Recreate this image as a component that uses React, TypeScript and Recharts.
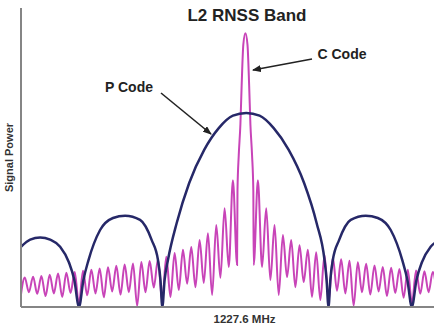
import { LineChart, Line, XAxis, YAxis } from 'recharts'

// frequency axis runs in arbitrary units, carrier (1227.6 MHz) sits at 53.9
const CARRIER = 53.9

// P code spectrum
const pCodeFreq = [
  0, 2.2, 4.6, 7, 9.4, 11.5, 12.8, 13.93,
  15, 16.2, 19, 22.1, 25, 28.6, 31.4, 32.9, 33.5, 33.94,
  34.5, 35.3, 37.4, 40.4, 44, 47.5, 50.9, 54.1, 57.3, 60.7, 64.3, 68, 71, 72.9, 73.4, 73.86,
  74.3, 74.9, 76.4, 79.2, 82.8, 85.7, 88.8, 91.6, 92.8, 93.87,
  95, 96.3, 98.4, 100.8
]
const pCodePower = [
  15.5, 17.3, 17.9, 17.3, 15.5, 11.5, 7, 0,
  7, 12, 19.8, 22.9, 23.5, 22.4, 17.2, 12.1, 7, 0,
  7, 12.1, 21.6, 31.9, 40.4, 46, 49.2, 49.9, 49.2, 46, 40.4, 31.9, 21.6, 12.1, 7, 0,
  7, 12.1, 17.2, 22.4, 23.5, 22.9, 19.8, 12, 7, 0,
  7, 11.5, 15.5, 17.3
]

// C code: sidelobe peaks and nulls, counted outward from the carrier
const cPeaksLeft = [
  32.6, 25.4, 21.1, 19, 17.2, 15.4, 14.7, 13.9, 12.9, 12.3,
  11.8, 11.6, 11.2, 10.9, 10.6, 10.2, 9.9, 9.6, 9.3, 9,
  8.8, 8.6, 8.3, 8, 7.8, 7.6
]
const cNullsLeft = [
  10.8, 10.3, 7.5, 3.1, 6.2, 5.1, 6, 4.4, 2.6, 1.5,
  5, 3.8, 0.3, 3.8, 3.2, 4, 2.5, 3.5, 3, 0.8,
  3.6, 2.6, 3.5, 2.8, 3.4, 3.8, 2.5
]
const cPeaksRight = [
  32.6, 25.4, 21.1, 18.5, 17.2, 15.9, 14.7, 14.1, 13.4, 12.7,
  12.3, 11.9, 11.5, 11.1, 10.7, 10.3, 10.1, 9.8, 9.6, 9.4,
  9.2, 9
]
const cNullsRight = [
  10.8, 10.3, 6.9, 3.1, 7.7, 5.1, 6.4, 2.6, 1.8, 1.5,
  4.2, 3.5, 0.3, 3.8, 3.2, 4, 2.8, 3.6, 2.4, 1,
  3.4, 3.8, 3
]
const cMainOffset = [-1.9, -1.6, -1.2, -0.9, -0.5, 0, 0.5, 0.9, 1.2, 1.6, 1.9]
const cMainPower = [30, 39, 47, 57, 67.5, 70.4, 67.5, 57, 47, 39, 30]

const xTicks = [0, 10, 20, 30, 40, 50, 60, 70, 80, 90]
const yTicks = [0, 10, 20, 30, 40, 50, 60, 70]

const pCodeData = pCodeFreq.map((x, i) => ({ x, v: pCodePower[i] }))

const buildCCode = () => {
  const pts: { x: number; v: number }[] = []
  for (let k = cNullsLeft.length; k >= 1; k--) {
    pts.push({ x: CARRIER - 2 * k, v: cNullsLeft[k - 1] })
    if (k > 1) pts.push({ x: CARRIER - 2 * k + 1, v: cPeaksLeft[k - 2] })
  }
  cMainOffset.forEach((o, i) => pts.push({ x: CARRIER + o, v: cMainPower[i] }))
  for (let k = 1; k <= cNullsRight.length; k++) {
    pts.push({ x: CARRIER + 2 * k, v: cNullsRight[k - 1] })
    if (k <= cPeaksRight.length) pts.push({ x: CARRIER + 2 * k + 1, v: cPeaksRight[k - 1] })
  }
  return pts
}
const cCodeData = buildCCode()

const font = '"Liberation Sans", Arial, sans-serif'
const axisGray = '#858585'

const App = () => {
  return (
    <div style={{ position: 'absolute', left: 0, top: 0, width: 434, height: 327, background: '#fff', fontFamily: font }}>
      <LineChart
        width={434}
        height={327}
        margin={{ top: 8, right: 0, bottom: 0, left: 0 }}
      >
        <XAxis
          dataKey='x'
          type='number'
          domain={[0, 99.2]}
          allowDataOverflow
          ticks={xTicks}
          interval={0}
          tick={false}
          tickSize={4}
          height={20}
          axisLine={{ stroke: axisGray, strokeWidth: 2 }}
          tickLine={{ stroke: axisGray }}
          label={{
            value: '1227.6 MHz',
            position: 'insideBottom',
            offset: 4,
            dx: 17,
            style: { fontSize: 11.5, fontWeight: 'bold', fill: '#333', fontFamily: font }
          }}
        />
        <YAxis
          type='number'
          domain={[0, 76.9]}
          allowDataOverflow
          ticks={yTicks}
          interval={0}
          tick={false}
          tickSize={3}
          width={21}
          axisLine={{ stroke: axisGray, strokeWidth: 2 }}
          tickLine={{ stroke: axisGray }}
          label={{
            value: 'Signal Power',
            angle: -90,
            position: 'center',
            dx: -1,
            style: { fontSize: 11, fontWeight: 'bold', fill: '#333', fontFamily: font }
          }}
        />
        <Line
          data={cCodeData}
          dataKey='v'
          type='monotone'
          stroke='#c844b8'
          strokeWidth={2}
          dot={false}
          isAnimationActive={false}
        />
        <Line
          data={pCodeData}
          dataKey='v'
          type='monotone'
          stroke='#262868'
          strokeWidth={2.5}
          dot={false}
          isAnimationActive={false}
        />
      </LineChart>
      <svg
        width={434}
        height={327}
        style={{ position: 'absolute', left: 0, top: 0, pointerEvents: 'none' }}
      >
        <defs>
          <marker id='head' markerWidth='9' markerHeight='7' refX='8' refY='3.5' orient='auto' markerUnits='userSpaceOnUse'>
            <path d='M0,0 L9,3.5 L0,7 z' fill='#222' />
          </marker>
        </defs>
        <text x={247} y={21} textAnchor='middle' fontSize={17} fontWeight='bold' fill='#222' fontFamily={font}>
          L2 RNSS Band
        </text>
        <text x={342} y={59} textAnchor='middle' fontSize={14} fontWeight='bold' fill='#222' fontFamily={font}>
          C Code
        </text>
        <text x={129} y={92} textAnchor='middle' fontSize={14} fontWeight='bold' fill='#222' fontFamily={font}>
          P Code
        </text>
        <line x1={312} y1={59} x2={253} y2={70} stroke='#222' strokeWidth={1.6} markerEnd='url(#head)' />
        <line x1={161} y1={93} x2={211} y2={134} stroke='#222' strokeWidth={1.6} markerEnd='url(#head)' />
      </svg>
    </div>
  )
}

export default App
